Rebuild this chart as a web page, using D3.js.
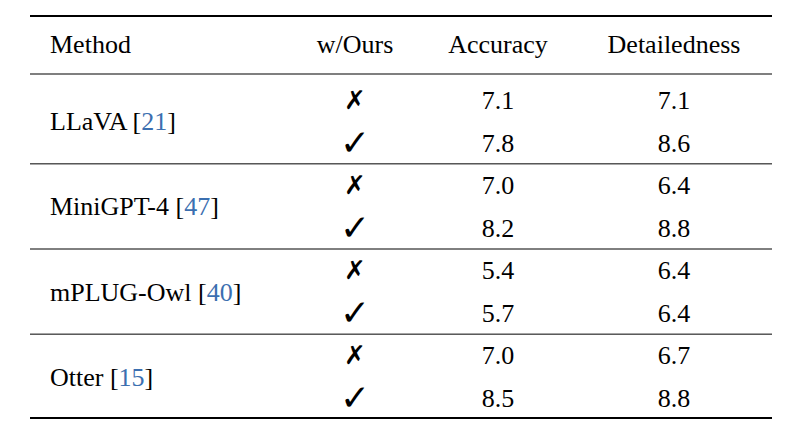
<!DOCTYPE html>
<html><head><meta charset="utf-8">
<script src="https://cdn.jsdelivr.net/npm/d3@7"></script>
<style>body{margin:0;background:#fff}</style>
</head><body>
<svg id="chart" width="800" height="436"></svg>
<script>
var methods = ['LLaVA', 'MiniGPT-4', 'mPLUG-Owl', 'Otter'];
var cites = ['21', '47', '40', '15'];
var headers = ['Method', 'w/Ours', 'Accuracy', 'Detailedness'];
var accuracy = [[7.1, 7.8], [7.0, 8.2], [5.4, 5.7], [7.0, 8.5]];
var detail = [[7.1, 8.6], [6.4, 8.8], [6.4, 6.4], [6.7, 8.8]];
var marks = ['\u2717', '\u2713'];

var svg = d3.select('#chart');
var FONT = '"Liberation Serif", "DejaVu Serif", serif';
var x0 = 30, x1 = 772;
var y = d3.scaleLinear().domain([0, 7]).range([100, 398]);
var colX = [50, 355, 498, 674];

function line(yy, w) {
    svg.append('line').attr('x1', x0).attr('x2', x1).attr('y1', yy).attr('y2', yy)
        .attr('stroke', '#000').attr('stroke-width', w);
}
line(16, 2.2);
line(74, 1.2);
line(418, 2.2);
[1, 2, 3].forEach(function(g){ line((y(g * 2 - 1) + y(g * 2)) / 2, 1); });

svg.selectAll('.h').data(headers).enter().append('text')
    .attr('x', function(d, i){ return colX[i]; })
    .attr('y', 53)
    .attr('text-anchor', function(d, i){ return i === 0 ? 'start' : 'middle'; })
    .attr('font-family', FONT).attr('font-size', 26).text(function(d){ return d; });

methods.forEach(function(m, g){
    var t = svg.append('text').attr('x', colX[0]).attr('y', (y(g * 2) + y(g * 2 + 1)) / 2 + 9)
        .attr('font-family', FONT).attr('font-size', 26);
    t.append('tspan').text(m + ' [');
    t.append('tspan').attr('fill', '#3b6fb0').text(cites[g]);
    t.append('tspan').text(']');
    [0, 1].forEach(function(r){
        var yy = y(g * 2 + r) + 9;
        svg.append('text').attr('x', colX[1]).attr('y', yy + (r ? 3 : 0)).attr('text-anchor', 'middle')
            .attr('font-family', '"DejaVu Sans", sans-serif').attr('font-size', r ? 36 : 26)
            .text(marks[r]);
        svg.append('text').attr('x', colX[2]).attr('y', yy).attr('text-anchor', 'middle')
            .attr('font-family', FONT).attr('font-size', 26).text(accuracy[g][r].toFixed(1));
        svg.append('text').attr('x', colX[3]).attr('y', yy).attr('text-anchor', 'middle')
            .attr('font-family', FONT).attr('font-size', 26).text(detail[g][r].toFixed(1));
    });
});
</script>
</body></html>
